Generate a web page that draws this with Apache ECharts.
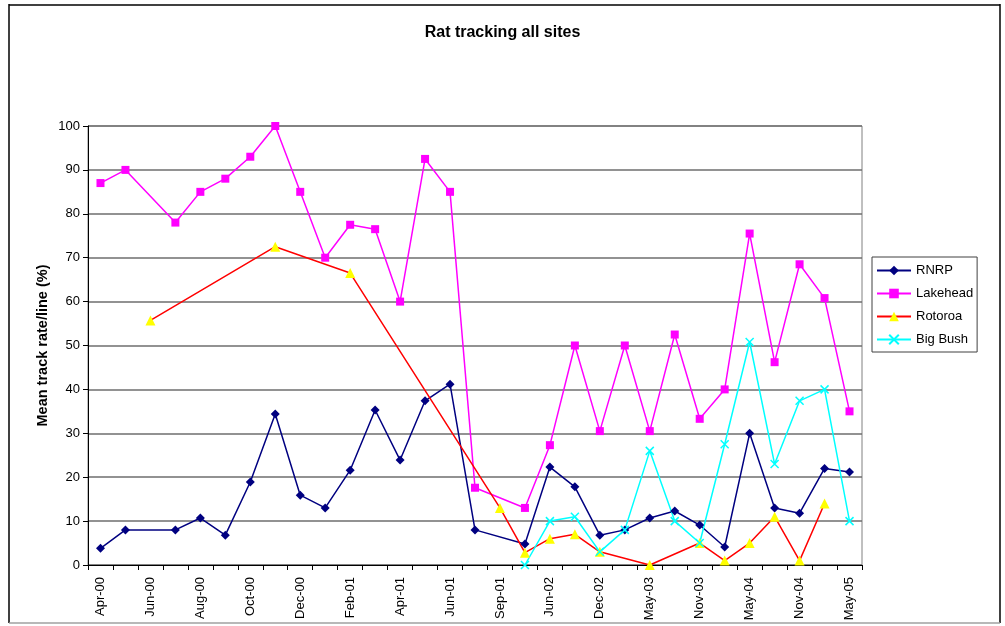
<!DOCTYPE html>
<html><head><meta charset="utf-8">
<script src="https://cdn.jsdelivr.net/npm/echarts@6/dist/echarts.min.js"></script>
<style>html,body{margin:0;padding:0;background:#fff}#c{width:1005px;height:626px}</style>
</head><body><div id="c"></div>
<script>
const categories = ['Apr-00','May-00','Jun-00','Jul-00','Aug-00','Sep-00','Oct-00','Nov-00','Dec-00','Jan-01','Feb-01','Mar-01','Apr-01','May-01','Jun-01','Jul-01','Sep-01','Mar-02','Jun-02','Sep-02','Dec-02','Feb-03','May-03','Aug-03','Nov-03','Feb-04','May-04','Aug-04','Nov-04','Feb-05','May-05'];
const rnrp =     [3.8, 8, null, 8, 10.7, 6.8, 18.9, 34.4, 15.9, 13, 21.6, 35.3, 23.9, 37.4, 41.2, 8, null, 4.8, 22.3, 17.8, 6.8, 8, 10.7, 12.3, 9.1, 4.1, 30, 13, 11.8, 22, 21.2];
const lakehead = [87, 90, null, 78, 85, 88, 93, 100, 85, 70, 77.5, 76.5, 60, 92.5, 85, 17.6, null, 13, 27.3, 50, 30.5, 50, 30.5, 52.5, 33.3, 40, 75.5, 46.2, 68.5, 60.8, 35];
const rotoroa =  [null, null, 55.7, null, null, null, null, 72.5, null, null, 66.5, null, null, null, null, null, 13, 2.8, 6, 7, 3, null, 0, null, 5, 1, 5, 11, 1, 14, null];
const bigBush =  [null, null, null, null, null, null, null, null, null, null, null, null, null, null, null, null, null, 0, 10, 11, 3, 8, 26, 10, 5, 27.5, 50.8, 23, 37.4, 40, 10];
const yTicks = {min: 0, max: 100, interval: 10};

const font = 'Liberation Sans, Arial, sans-serif';
const chart = echarts.init(document.getElementById('c'));
const xPath = 'path://M0,0L10,10M10,0L0,10';
chart.setOption({
  animation: false,
  textStyle: {fontFamily: font},
  title: {text: 'Rat tracking all sites', left: 'center', top: 20,
    textStyle: {fontSize: 16, fontWeight: 'bold', color: '#000', fontFamily: font}},
  grid: {left: 88, right: 143, top: 126, bottom: 61, show: true, borderColor: '#808080', borderWidth: 1},
  legend: {
    orient: 'vertical', left: 872, top: 257,
    borderColor: '#404040', borderWidth: 1, padding: [7, 4, 6, 4],
    itemWidth: 34, itemHeight: 12, itemGap: 10,
    textStyle: {fontSize: 13, color: '#000', fontFamily: font},
    data: ['RNRP', 'Lakehead', 'Rotoroa', 'Big Bush']
  },
  xAxis: {
    type: 'category', data: categories, boundaryGap: true,
    axisLine: {lineStyle: {color: '#000', width: 1}},
    axisTick: {show: true, interval: 0, length: 5, lineStyle: {color: '#000'}},
    axisLabel: {interval: 1, rotate: 90, fontSize: 13, color: '#000', margin: 12, fontFamily: font},
    splitLine: {show: false}
  },
  yAxis: {
    type: 'value', min: yTicks.min, max: yTicks.max, interval: yTicks.interval,
    name: 'Mean track rate/line (%)', nameLocation: 'middle', nameGap: 38, nameMoveOverlap: false,
    nameTextStyle: {fontSize: 14.5, fontWeight: 'bold', color: '#000', fontFamily: font},
    axisLine: {show: true, lineStyle: {color: '#000', width: 1}},
    axisTick: {show: true, length: 5, lineStyle: {color: '#000'}},
    axisLabel: {fontSize: 13, color: '#000', margin: 8, fontFamily: font},
    splitLine: {show: true, lineStyle: {color: '#6e6e6e', width: 1.5}}
  },
  graphic: [
    {type: 'line', shape: {x1: 9, y1: 5, x2: 1000, y2: 5}, style: {stroke: '#404040', lineWidth: 2}},
    {type: 'line', shape: {x1: 9, y1: 4, x2: 9, y2: 623}, style: {stroke: '#000', lineWidth: 1.5}},
    {type: 'line', shape: {x1: 1000, y1: 4, x2: 1000, y2: 623}, style: {stroke: '#000', lineWidth: 1.5}},
    {type: 'line', shape: {x1: 9, y1: 623, x2: 1000, y2: 623}, style: {stroke: '#a0a0a0', lineWidth: 1.5}}
  ],
  series: [
    {name: 'RNRP', type: 'line', data: rnrp, connectNulls: true, symbol: 'diamond', symbolSize: 9,
      itemStyle: {color: '#000080'}, lineStyle: {color: '#000080', width: 1.5}},
    {name: 'Lakehead', type: 'line', data: lakehead, connectNulls: true, symbol: 'rect', symbolSize: 8,
      itemStyle: {color: '#FF00FF'}, lineStyle: {color: '#FF00FF', width: 1.5}},
    {name: 'Rotoroa', type: 'line', data: rotoroa, connectNulls: true, symbol: 'triangle', symbolSize: 10,
      itemStyle: {color: '#FFFF00'}, lineStyle: {color: '#FF0000', width: 1.5}},
    {name: 'Big Bush', type: 'line', data: bigBush, connectNulls: true, symbol: xPath, symbolSize: 8,
      itemStyle: {color: '#00FFFF', borderColor: '#00FFFF', borderWidth: 1.5}, lineStyle: {color: '#00FFFF', width: 1.5}}
  ]
});
</script></body></html>
